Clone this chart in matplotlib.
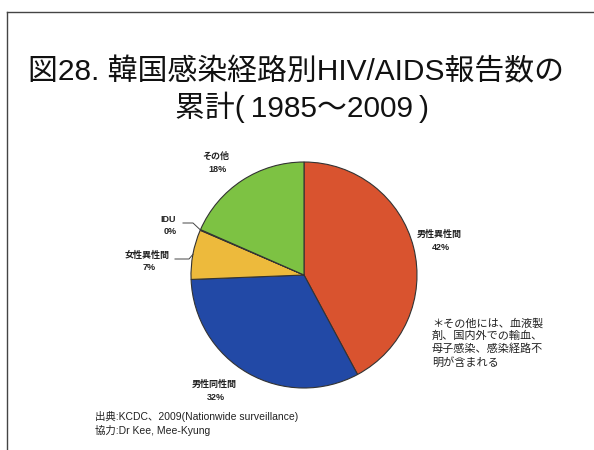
import numpy as np
import matplotlib
matplotlib.use("Agg")
import matplotlib.pyplot as plt
from matplotlib.lines import Line2D

plt.rcParams['font.family'] = ['Liberation Sans', 'Noto Sans CJK JP', 'DejaVu Sans']

# data (percent of cumulative reports)
routes = ['男性異性間', '男性同性間', '女性異性間', 'IDU', 'その他']
shares = [42.1, 32.2, 7.1, 0.1, 18.4]
colors = ['#D9532F', '#2249A6', '#EDBA3C', '#555555', '#7DC243']

W, H = 594, 450
fig = plt.figure(figsize=(W / 100, H / 100), dpi=100)
fig.patch.set_facecolor('white')

def fx(px):
    return px / W

def fy(py):
    return 1 - py / H

# slide frame (top and left edges visible)
fig.add_artist(Line2D([fx(7), fx(594)], [fy(12), fy(12)], color='#444444', lw=1.0))
fig.add_artist(Line2D([fx(7), fx(7)], [fy(12), fy(450)], color='#444444', lw=1.0))

# title
fig.text(fx(296), fy(72), '図28. 韓国感染経路別HIV/AIDS報告数の', ha='center', va='center',
         fontsize=21.5, color='#111111')
fig.text(fx(302), fy(107), '累計(\u20091985～2009\u2009)', ha='center', va='center',
         fontsize=21.5, color='#111111')

# pie
cx, cy, R = 304, 275, 113
ax = fig.add_axes([fx(cx - R), fy(cy + R), 2 * R / W, 2 * R / H])
wedges, _ = ax.pie(shares, colors=colors, startangle=90, counterclock=False, radius=1,
                   wedgeprops=dict(edgecolor='#333333', linewidth=0.8))
ax.set_xlim(-1, 1)
ax.set_ylim(-1, 1)
ax.set_aspect('equal')
ax.axis('off')

def to_data(px, py):
    return (px - cx) / R, (cy - py) / R

# labels: name + percent
label_pos = {
    '男性異性間': (439, 234),
    '男性同性間': (214, 384),
    '女性異性間': (147, 255),
    'IDU': (168, 219),
    'その他': (216, 156),
}
for name, v in zip(routes, shares):
    px, py = label_pos[name]
    fig.text(fx(px), fy(py), name, ha='center', va='center', fontsize=6.5,
             fontweight='bold', color='#222222')
    fig.text(fx(px + 2), fy(py + 13), f'{v:.0f}%', ha='center', va='center', fontsize=6.5,
             fontweight='bold', color='#222222')

# leader lines for the small slices
leaders = {'IDU': (183, 193), '女性異性間': (175, 189)}
for i, name in enumerate(routes):
    if name not in leaders:
        continue
    w = wedges[i]
    mid = np.deg2rad((w.theta1 + w.theta2) / 2)
    ex, ey = np.cos(mid), np.sin(mid)
    x0, x1 = leaders[name]
    py = label_pos[name][1] + 4
    ax0, ay0 = to_data(x0, py)
    ax1, ay1 = to_data(x1, py)
    ax.plot([ax0, ax1, ex], [ay0, ay1, ey], color='#444444', lw=0.7, clip_on=False)

# note
fig.text(fx(432), fy(318), '＊その他には、血液製\n剤、国内外での輸血、\n母子感染、感染経路不\n明が含まれる',
         ha='left', va='top', fontsize=8, linespacing=1.3, color='#222222')

# source
fig.text(fx(95), fy(416), '出典:KCDC、2009(Nationwide surveillance)', ha='left', va='center',
         fontsize=7.5, color='#222222')
fig.text(fx(95), fy(431), '協力:Dr Kee, Mee-Kyung', ha='left', va='center',
         fontsize=7.5, color='#222222')

fig.savefig('out.png', dpi=100)
